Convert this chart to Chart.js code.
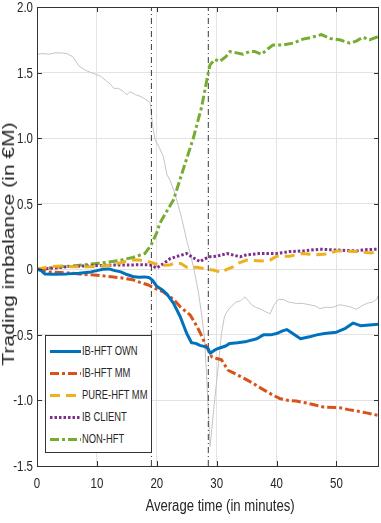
<!DOCTYPE html>
<html>
<head>
<meta charset="utf-8">
<script src="https://cdn.jsdelivr.net/npm/chart.js@4/dist/chart.umd.min.js"></script>
<style>
html,body{margin:0;padding:0;background:#fff;}
#wrap{position:relative;width:381px;height:523px;overflow:hidden;}
#ytitle{position:absolute;left:8px;top:244px;transform:translate(-50%,-50%) rotate(-90deg) scaleY(.78);white-space:nowrap;font:21px "Liberation Sans",Arial,sans-serif;color:#262626;line-height:1;}
#xtitle{position:absolute;left:220px;top:506px;transform:translate(-50%,-50%) scaleX(.82);white-space:nowrap;font:16px "Liberation Sans",Arial,sans-serif;color:#262626;line-height:1;}
#legend{position:absolute;left:45px;top:335px;width:107px;height:118px;border:1px solid #333;background:#fff;box-sizing:border-box;}
.row{position:absolute;left:0;height:22px;width:106px;}
.row svg{position:absolute;left:3px;top:0;}
.row span{position:absolute;left:36px;top:4px;font:12.5px "Liberation Sans",Arial,sans-serif;color:#262626;white-space:nowrap;line-height:14px;transform:scaleX(.75);transform-origin:0 50%;}
</style>
</head>
<body>
<div id="wrap">
<canvas id="c" width="381" height="523"></canvas>
<div id="ytitle">Trading imbalance (in €M)</div>
<div id="xtitle">Average time (in minutes)</div>
<div id="legend"></div>
</div>
<script>
// ---- data ----
const seriesNames = ["IB-HFT OWN","IB-HFT MM","PURE-HFT MM","IB CLIENT","NON-HFT"];
const yTickLabels = ["-1.5","-1.0","-0.5","0","0.5","1.0","1.5","2.0"];
const xTickLabels = ["0","10","20","30","40","50"];
const eventTimes = [19.1, 28.6];

const ownT = [0,0.7,1.3,3,5,7,9,10,11,12,13,14,15,16,17,18,18.8,19.3,20,21,21.7,22.8,23.9,25,25.8,26.5,27.2,28,28.5,28.9,29.7,30.5,31.5,32.2,33.5,35,36.7,37.8,39,40,41,41.7,43,44,45.5,46.7,48,50,51.5,52.8,54,55.5,57];
const ownV = [0,-0.01,-0.035,-0.037,-0.035,-0.03,-0.02,-0.01,0.0,0.003,-0.01,-0.02,-0.04,-0.055,-0.06,-0.058,-0.065,-0.085,-0.13,-0.16,-0.19,-0.26,-0.36,-0.49,-0.56,-0.565,-0.58,-0.59,-0.6,-0.64,-0.615,-0.6,-0.585,-0.565,-0.56,-0.55,-0.53,-0.5,-0.5,-0.49,-0.47,-0.46,-0.5,-0.53,-0.515,-0.5,-0.49,-0.48,-0.45,-0.41,-0.43,-0.425,-0.42];

const mmT = [0,2,4,6,8,10,12,14,16,17.2,18.6,19.7,21,22.8,24,25.6,26.5,27.2,28.3,29.2,30,30.8,31.9,32.8,34.5,36.1,37.5,39.4,40.5,42,43.3,45,47.8,50.5,52,53.3,55,57];
const mmV = [0,-0.02,-0.025,-0.03,-0.04,-0.045,-0.055,-0.065,-0.08,-0.1,-0.12,-0.145,-0.17,-0.23,-0.29,-0.35,-0.42,-0.48,-0.59,-0.67,-0.68,-0.69,-0.77,-0.79,-0.83,-0.87,-0.91,-0.96,-0.985,-1.0,-1.005,-1.02,-1.05,-1.055,-1.07,-1.08,-1.095,-1.115];

const pureT = [0,2,4,6,8,10,12,14,15.5,17.2,18.9,20.5,22.2,22.8,24,25,26.7,28.6,29.8,30.8,31.5,32.8,33.5,35,37.5,38.9,40,42.2,44.2,46.7,48.9,50,51.1,53.3,55.8,57];
const pureV = [0,0.02,0.025,0.02,0.02,0.02,0.03,0.05,0.07,0.07,0.055,0.03,0.033,0.045,0.045,0.015,0.015,0.0,-0.01,-0.026,-0.005,0.02,0.045,0.07,0.063,0.07,0.10,0.10,0.12,0.11,0.12,0.14,0.14,0.135,0.125,0.14];

const clientT = [0,3,5,8,10,13.6,15.5,18,18.9,20,21,22.2,23.5,25,26,27.2,28,28.9,30,31.7,33.9,35,37,40,42.2,44.5,47.2,50,53.3,55,57];
const clientV = [0,0.01,0.02,0.025,0.028,0.033,0.033,0.035,0.033,0.01,0.04,0.08,0.1,0.12,0.09,0.058,0.08,0.096,0.1,0.12,0.096,0.11,0.12,0.12,0.135,0.14,0.153,0.147,0.14,0.15,0.153];

const nonT = [0,2,4,6,8,10,12,14,16,17,18,18.8,19.1,20,20.5,21.5,22.8,24.4,26.1,27.5,28.6,28.9,29.7,30.5,31.5,32.2,33.3,34.4,35.5,36.4,37.5,38.5,39.4,41.1,42.8,44.4,46,47.5,48.9,50.5,52.2,53.3,54.4,55.5,57];
const nonV = [0,0.01,0.02,0.025,0.035,0.045,0.055,0.07,0.09,0.105,0.12,0.17,0.19,0.28,0.35,0.43,0.53,0.76,1.0,1.24,1.5,1.56,1.6,1.585,1.62,1.66,1.65,1.64,1.66,1.66,1.64,1.68,1.71,1.71,1.725,1.755,1.77,1.79,1.76,1.75,1.725,1.74,1.77,1.75,1.775];

const priceT = [0,1,2,3,4,5,6,7,8,9,10.5,11.5,12.3,12.8,13.5,14.3,15,15.5,16.5,17.2,18,18.9,19.3,19.7,20.3,21.1,21.7,22.2,23,23.5,24.2,25,25.6,26.2,26.9,27.5,28,28.3,28.6,28.9,29.5,30,30.3,30.8,31.3,31.9,32.5,33.2,34,34.7,35.3,35.8,36.5,37.2,38,38.9,39.6,40.3,41.1,42,43.3,44.3,45.5,46.5,47.2,48.2,49.4,50.5,51.7,52.5,53.3,54.2,55,56,56.7,57];
const priceV = [1.64,1.645,1.64,1.65,1.65,1.645,1.62,1.55,1.52,1.5,1.475,1.44,1.41,1.38,1.38,1.36,1.33,1.355,1.33,1.32,1.3,1.27,1.1,0.99,0.94,0.86,0.72,0.68,0.58,0.5,0.38,0.22,0.12,0.0,-0.16,-0.35,-0.54,-0.8,-1.07,-1.35,-1.07,-0.85,-0.72,-0.49,-0.36,-0.31,-0.28,-0.25,-0.24,-0.21,-0.24,-0.27,-0.29,-0.3,-0.32,-0.34,-0.27,-0.23,-0.23,-0.25,-0.26,-0.26,-0.27,-0.28,-0.3,-0.29,-0.29,-0.27,-0.28,-0.29,-0.305,-0.28,-0.26,-0.25,-0.23,-0.2];

// ---- styles ----
const colors = ["#0072BD","#D95319","#EDB120","#7E2F8E","#77AC30"];
const dashes = [[],[9,3,3,3],[10,6],[2.5,2],[9,3,3,3]];
const pts = (t,v)=>t.map((x,i)=>({x:x,y:v[i]}));
const seriesData = [pts(ownT,ownV),pts(mmT,mmV),pts(pureT,pureV),pts(clientT,clientV),pts(nonT,nonV)];

const datasets = seriesNames.map((n,i)=>({
  label:n,data:seriesData[i],borderColor:colors[i],backgroundColor:colors[i],
  borderWidth:3,borderDash:dashes[i],pointRadius:0,tension:0,fill:false,order:i+1,
  borderCapStyle:'butt',borderJoinStyle:'round'
}));
datasets.push({label:'price',data:pts(priceT,priceV),borderColor:'#c4c4c4',borderWidth:1,pointRadius:0,tension:0,order:20});
eventTimes.forEach(t=>datasets.push({label:'ev',data:[{x:t,y:-1.5},{x:t,y:2}],borderColor:'#3a3a3a',borderWidth:1,borderDash:[6,3,1,3],pointRadius:0,order:15}));

const AX='#333333';
const FONT='14px "Liberation Sans", Arial, sans-serif';
const frame = {
  id:'frame',
  afterDraw(chart){
    const {ctx,chartArea:a,scales:{x,y}}=chart;
    ctx.save();
    ctx.strokeStyle=AX;ctx.lineWidth=1;
    ctx.strokeRect(Math.round(a.left)+0.5,Math.round(a.top)+0.5,Math.round(a.right-a.left)-1,Math.round(a.bottom-a.top));
    ctx.beginPath();
    x.ticks.forEach(t=>{const p=Math.round(x.getPixelForValue(t.value))+0.5;ctx.moveTo(p,a.bottom);ctx.lineTo(p,a.bottom-5);ctx.moveTo(p,a.top);ctx.lineTo(p,a.top+5);});
    y.ticks.forEach(t=>{const p=Math.round(y.getPixelForValue(t.value))+0.5;ctx.moveTo(a.left,p);ctx.lineTo(a.left+5,p);ctx.moveTo(a.right,p);ctx.lineTo(a.right-5,p);});
    ctx.stroke();
    // condensed tick labels, positioned by the scales
    ctx.fillStyle='#262626';ctx.font=FONT;ctx.textBaseline='alphabetic';
    ctx.textAlign='center';
    x.ticks.forEach(t=>{const lab=x.options.ticks.callback(t.value);const p=x.getPixelForValue(t.value);
      ctx.save();ctx.translate(p,a.bottom+22);ctx.scale(0.82,1);ctx.fillText(lab,0,0);ctx.restore();});
    ctx.textAlign='right';
    y.ticks.forEach(t=>{const lab=y.options.ticks.callback(t.value);const p=y.getPixelForValue(t.value);
      ctx.save();ctx.translate(a.left-4,p+5);ctx.scale(0.82,1);ctx.fillText(lab,0,0);ctx.restore();});
    ctx.restore();
  }
};

new Chart(document.getElementById('c'),{
  type:'line',
  data:{datasets:datasets},
  options:{
    responsive:false,animation:false,
    layout:{padding:{top:7,right:2,left:0,bottom:0}},
    plugins:{legend:{display:false},tooltip:{enabled:false}},
    scales:{
      x:{type:'linear',min:0,max:57.1,
        afterFit:s=>{s.height=57;},
        grid:{color:'#e3e3e3',drawTicks:false},border:{display:false},
        ticks:{display:false,stepSize:10,includeBounds:false,
          callback:(v)=>{const i=Math.round(v/10);return xTickLabels[i];}}},
      y:{type:'linear',min:-1.5,max:2,
        afterFit:s=>{s.width=37;},
        grid:{color:'#e3e3e3',drawTicks:false},border:{display:false},
        ticks:{display:false,stepSize:0.5,
          callback:(v)=>{const i=Math.round((v+1.5)/0.5);return yTickLabels[i];}}}
    }
  },
  plugins:[frame]
});

// ---- legend (HTML) ----
const lg=document.getElementById('legend');
seriesNames.forEach((n,i)=>{
  const r=document.createElement('div');r.className='row';r.style.top=(4+i*22)+'px';
  const da=dashes[i].length?dashes[i].join(','):'none';
  r.innerHTML='<svg width="32" height="22"><line x1="1" y1="11.5" x2="32" y2="11.5" stroke="'+colors[i]+'" stroke-width="3" stroke-dasharray="'+da+'"/></svg><span>'+n+'</span>';
  lg.appendChild(r);
});
</script>
</body>
</html>
